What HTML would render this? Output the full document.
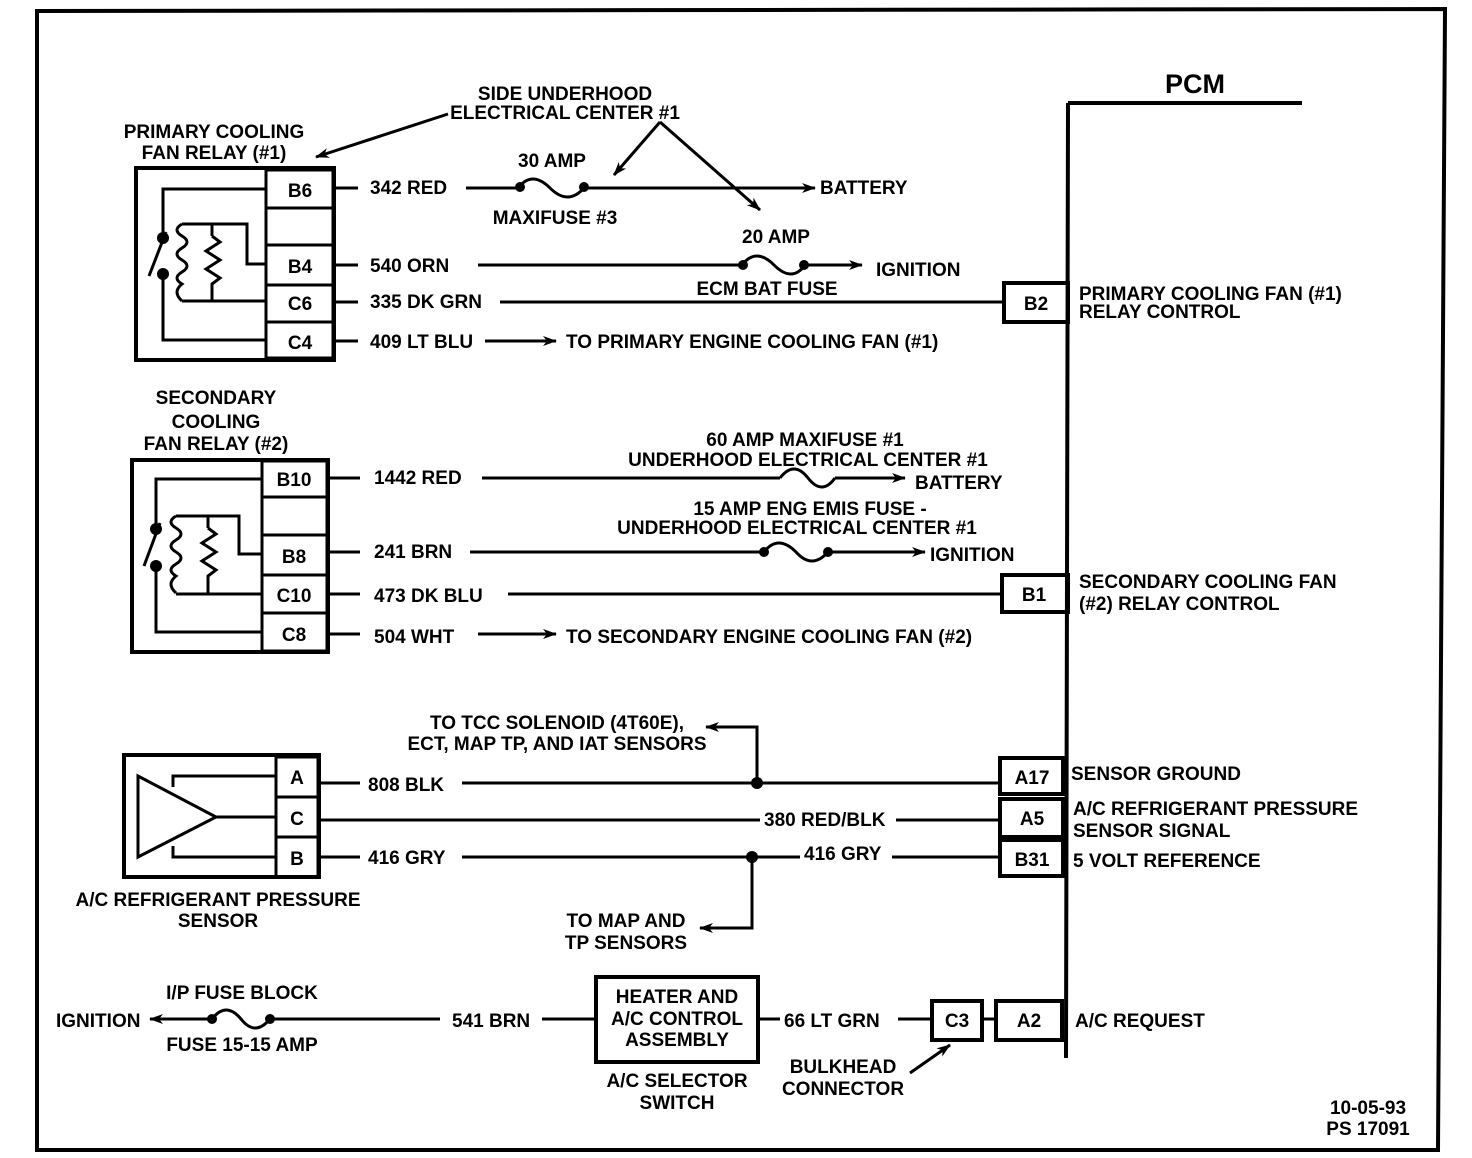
<!DOCTYPE html>
<html><head><meta charset="utf-8"><style>
html,body{margin:0;padding:0;background:#fff}
svg{display:block}
text{font-family:"Liberation Sans",sans-serif;font-weight:bold;font-size:19px;fill:#000}
</style></head><body>
<svg width="1472" height="1158" viewBox="0 0 1472 1158" xmlns="http://www.w3.org/2000/svg">
<defs>
<marker id="ar" markerWidth="14" markerHeight="10" refX="13" refY="5" orient="auto" markerUnits="userSpaceOnUse"><path d="M0,0 L14,5 L0,10 L4,5 Z" fill="#000"/></marker>
</defs>
<g fill="none" stroke="#000" stroke-width="3">
<path d="M37,11 L1445,9 L1438,1150 L37,1150 Z" stroke-width="4"/>
<path d="M1068,103 L1302,103 M1068,103 L1066,1058" stroke-width="4"/>

<rect x="136" y="168" width="198" height="192" stroke-width="4"/>
<rect x="266" y="170" width="67" height="38"/>
<rect x="266" y="208" width="67" height="37"/>
<rect x="266" y="245" width="67" height="40"/>
<rect x="266" y="285" width="67" height="37"/>
<rect x="266" y="322" width="67" height="36"/>
<path d="M266,189 L163,189 L163,235 M163,276 L163,340 L266,340"/>
<path d="M149,276 L166,232"/>
<path d="M266,264 L247,264 L247,224 L182,224 M266,301 L182,301 M212,224 L212,236 M212,290 L212,301"/>
<path d="M182,224 q-10,6 0,12 q10,6 0,12 q-10,6 0,12 q10,6 0,12 q-10,6 0,12 q-10,8 0,17" />
<path d="M212,236 l8,6 -14,9 14,9 -14,9 14,9 -8,6 0,6"/>

<rect x="132" y="460" width="196" height="192" stroke-width="4"/>
<rect x="262" y="461" width="65" height="36"/>
<rect x="262" y="497" width="65" height="38"/>
<rect x="262" y="535" width="65" height="40"/>
<rect x="262" y="575" width="65" height="38"/>
<rect x="262" y="613" width="65" height="38"/>
<path d="M262,479 L156,479 L156,527 M156,567 L156,632 L262,632"/>
<path d="M144,566 L160,523"/>
<path d="M262,554 L239,554 L239,516 L176,516 M262,594 L176,594 M208,516 L208,528 M208,582 L208,594"/>
<path d="M176,516 q-10,6 0,12 q10,6 0,12 q-10,6 0,12 q10,6 0,12 q-10,6 0,12 q-10,8 0,17"/>
<path d="M208,528 l8,6 -14,9 14,9 -14,9 14,9 -8,6 0,6"/>

<rect x="124" y="755" width="195" height="122" stroke-width="4"/>
<rect x="276" y="757" width="42" height="40"/>
<rect x="276" y="797" width="42" height="40"/>
<rect x="276" y="837" width="42" height="40"/>
<path d="M138,776 L138,857 L216,817 Z"/>
<path d="M173,787 L173,776 L276,776 M216,817 L276,817 M173,846 L173,857 L276,857"/>

<path d="M334,188 L358,188 M466,188 L518,188 M584,188 L815,188" marker-end="url(#ar)"/>
<path d="M518,188 q14,-18 32,0 q18,18 34,0"/>
<path d="M334,265 L358,265 M478,265 L742,265 M805,265 L862,265" marker-end="url(#ar)"/>
<path d="M742,265 q14,-18 32,0 q18,18 31,0"/>
<path d="M334,302 L358,302 M500,302 L1004,302"/>
<path d="M334,341 L358,341 M485,341 L556,341" marker-end="url(#ar)"/>
<rect x="1004" y="283" width="64" height="39" stroke-width="4"/>
<path d="M448,114 L316,157" marker-end="url(#ar)"/>
<path d="M660,122 L614,175" marker-end="url(#ar)"/>
<path d="M660,122 L760,210" marker-end="url(#ar)"/>

<path d="M327,478 L360,478 M482,478 L780,478 M835,478 L905,478" marker-end="url(#ar)"/>
<path d="M780,478 q14,-18 28,0 q14,18 27,0"/>
<path d="M327,552 L360,552 M470,552 L764,552 M828,552 L925,552" marker-end="url(#ar)"/>
<path d="M764,552 q14,-18 32,0 q16,18 32,0"/>
<path d="M327,594 L360,594 M508,594 L1002,594"/>
<path d="M327,634 L360,634 M478,634 L556,634" marker-end="url(#ar)"/>
<rect x="1002" y="575" width="66" height="37" stroke-width="4"/>

<path d="M319,783 L360,783 M462,783 L1000,783"/>
<path d="M757,783 L757,727 L706,727" marker-end="url(#ar)"/>
<path d="M319,820 L760,820 M896,820 L1000,820"/>
<path d="M319,857 L360,857 M462,857 L800,857 M892,857 L1000,857"/>
<path d="M752,857 L752,928 L700,928" marker-end="url(#ar)"/>
<rect x="1000" y="758" width="63" height="36" stroke-width="4"/>
<rect x="1000" y="799" width="63" height="38" stroke-width="4"/>
<rect x="1000" y="840" width="63" height="36" stroke-width="4"/>

<rect x="596" y="977" width="162" height="85" stroke-width="4"/>
<rect x="932" y="1001" width="50" height="39" stroke-width="4"/>
<rect x="996" y="1001" width="66" height="39" stroke-width="4"/>
<path d="M596,1019 L542,1019 M440,1019 L270,1019 M212,1019 L150,1019" marker-end="url(#ar)"/>
<path d="M212,1019 q14,-18 29,0 q14,18 29,0"/>
<path d="M758,1019 L780,1019 M898,1019 L932,1019 M982,1019 L996,1019"/>
<path d="M910,1073 L950,1045" marker-end="url(#ar)"/>
</g>
<g fill="#000">
<circle cx="520" cy="187" r="5"/><circle cx="584" cy="187" r="5"/>
<circle cx="743" cy="265" r="5"/><circle cx="804" cy="265" r="5"/>
<circle cx="764" cy="552" r="5"/><circle cx="828" cy="552" r="5"/>
<circle cx="163" cy="238" r="6"/><circle cx="163" cy="274" r="6"/>
<circle cx="156" cy="529" r="6"/><circle cx="156" cy="566" r="6"/>
<circle cx="757" cy="783" r="6"/><circle cx="752" cy="857" r="6"/>
<circle cx="212" cy="1019" r="5"/><circle cx="270" cy="1019" r="5"/>
</g>
<text x="1195" y="93" text-anchor="middle" style="font-size:27px">PCM</text>
<g text-anchor="middle">
<text x="565" y="100">SIDE UNDERHOOD</text>
<text x="565" y="119">ELECTRICAL CENTER #1</text>
<text x="214" y="138">PRIMARY COOLING</text>
<text x="214" y="159">FAN RELAY (#1)</text>
<text x="552" y="167">30 AMP</text>
<text x="555" y="224">MAXIFUSE #3</text>
<text x="776" y="243">20 AMP</text>
<text x="767" y="295">ECM BAT FUSE</text>
<text x="300" y="197">B6</text><text x="300" y="273">B4</text><text x="300" y="310">C6</text><text x="300" y="349">C4</text>
<text x="1036" y="310">B2</text>
<text x="216" y="404">SECONDARY</text>
<text x="216" y="428">COOLING</text>
<text x="216" y="450">FAN RELAY (#2)</text>
<text x="294" y="486">B10</text><text x="294" y="563">B8</text><text x="294" y="602">C10</text><text x="294" y="641">C8</text>
<text x="1034" y="601">B1</text>
<text x="805" y="446">60 AMP  MAXIFUSE #1</text>
<text x="808" y="466">UNDERHOOD ELECTRICAL CENTER #1</text>
<text x="810" y="515">15 AMP ENG EMIS FUSE -</text>
<text x="797" y="534">UNDERHOOD ELECTRICAL CENTER #1</text>
<text x="557" y="729">TO TCC SOLENOID (4T60E),</text>
<text x="557" y="750">ECT, MAP TP, AND IAT SENSORS</text>
<text x="297" y="784">A</text><text x="297" y="825">C</text><text x="297" y="865">B</text>
<text x="1032" y="784">A17</text><text x="1032" y="825">A5</text><text x="1032" y="866">B31</text>
<text x="218" y="906">A/C REFRIGERANT PRESSURE</text>
<text x="218" y="927">SENSOR</text>
<text x="626" y="927">TO MAP AND</text>
<text x="626" y="949">TP SENSORS</text>
<text x="242" y="999">I/P FUSE BLOCK</text>
<text x="242" y="1051">FUSE 15-15  AMP</text>
<text x="677" y="1003">HEATER AND</text>
<text x="677" y="1025">A/C CONTROL</text>
<text x="677" y="1046">ASSEMBLY</text>
<text x="677" y="1087">A/C SELECTOR</text>
<text x="677" y="1109">SWITCH</text>
<text x="843" y="1073">BULKHEAD</text>
<text x="843" y="1095">CONNECTOR</text>
<text x="957" y="1027">C3</text>
<text x="1029" y="1027">A2</text>
<text x="1368" y="1114">10-05-93</text>
<text x="1368" y="1135">PS 17091</text>
</g>
<text x="370" y="194">342 RED</text>
<text x="820" y="194">BATTERY</text>
<text x="370" y="272">540 ORN</text>
<text x="876" y="276">IGNITION</text>
<text x="370" y="308">335 DK GRN</text>
<text x="370" y="348">409 LT BLU</text>
<text x="566" y="348">TO PRIMARY ENGINE COOLING FAN (#1)</text>
<text x="1079" y="300">PRIMARY COOLING FAN (#1)</text>
<text x="1079" y="318">RELAY CONTROL</text>
<text x="374" y="484">1442 RED</text>
<text x="915" y="489">BATTERY</text>
<text x="374" y="558">241 BRN</text>
<text x="930" y="561">IGNITION</text>
<text x="374" y="602">473 DK BLU</text>
<text x="374" y="643">504 WHT</text>
<text x="566" y="643">TO SECONDARY ENGINE COOLING FAN (#2)</text>
<text x="1079" y="588">SECONDARY COOLING FAN</text>
<text x="1079" y="610">(#2) RELAY CONTROL</text>
<text x="368" y="791">808 BLK</text>
<text x="764" y="826">380 RED/BLK</text>
<text x="368" y="864">416 GRY</text>
<text x="804" y="860">416 GRY</text>
<text x="1071" y="780">SENSOR GROUND</text>
<text x="1073" y="815">A/C REFRIGERANT PRESSURE</text>
<text x="1073" y="837">SENSOR SIGNAL</text>
<text x="1073" y="867">5 VOLT REFERENCE</text>
<text x="56" y="1027">IGNITION</text>
<text x="452" y="1027">541 BRN</text>
<text x="784" y="1027">66 LT GRN</text>
<text x="1075" y="1027">A/C REQUEST</text>
</svg>
</body></html>
